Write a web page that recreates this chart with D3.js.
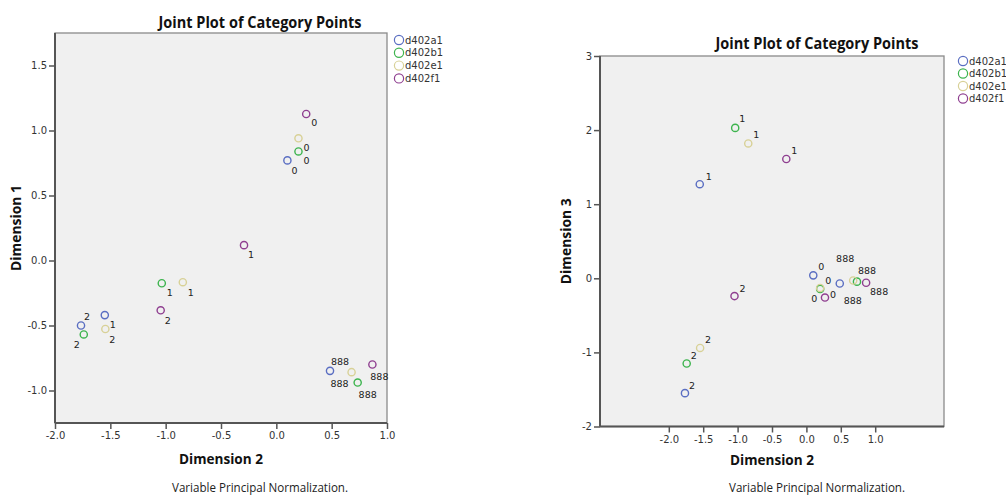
<!DOCTYPE html>
<html><head><meta charset="utf-8">
<script src="https://cdn.jsdelivr.net/npm/d3@7"></script>
<style>
html,body{margin:0;padding:0;background:#fff;}
svg{display:block;}
.tick text{font-family:"DejaVu Sans",sans-serif;font-size:10px;fill:#333;}
</style>
</head><body>
<svg id="chart" width="1006" height="495"></svg>
<script>
// ---- data ----
const variables = ["d402a1", "d402b1", "d402e1", "d402f1"];
const categories = ["0", "1", "2", "888"];
// Dimension 2 values (x in both plots), per variable, per category
const dim2_a1 = [0.10, -1.55, -1.765, 0.485];
const dim2_b1 = [0.20, -1.035, -1.74, 0.735];
const dim2_e1 = [0.20, -0.845, -1.545, 0.68];
const dim2_f1 = [0.27, -0.292, -1.045, 0.868];
// Dimension 1 values
const dim1_a1 = [0.77, -0.42, -0.50, -0.849];
const dim1_b1 = [0.839, -0.175, -0.569, -0.939];
const dim1_e1 = [0.94, -0.167, -0.527, -0.859];
const dim1_f1 = [1.127, 0.118, -0.383, -0.80];
// Dimension 3 values
const dim3_a1 = [0.04, 1.27, -1.55, -0.07];
const dim3_b1 = [-0.143, 2.03, -1.15, -0.045];
const dim3_e1 = [-0.13, 1.82, -0.94, -0.03];
const dim3_f1 = [-0.26, 1.61, -0.24, -0.06];
// tick labels
const leftXTicks = [-2.0, -1.5, -1.0, -0.5, 0.0, 0.5, 1.0];
const leftYTicks = [-1.0, -0.5, 0.0, 0.5, 1.0, 1.5];
const rightXTicks = [-2.0, -1.5, -1.0, -0.5, 0.0, 0.5, 1.0];
const rightYTicks = [-2, -1, 0, 1, 2, 3];

// ---- styles / layout ----
const colors = {d402a1: "#5a6ec2", d402b1: "#3db44e", d402e1: "#d8d197", d402f1: "#8f3f90"};
// label offsets (px) of the category label centre relative to point centre
const labelOffLeft = {
  "d402a1|0": [7, 10], "d402b1|0": [8, 9], "d402e1|0": [8, 9], "d402f1|0": [8, 9],
  "d402a1|1": [8, 9], "d402b1|1": [8, 9], "d402e1|1": [8, 10], "d402f1|1": [7, 9],
  "d402a1|2": [6, -9], "d402b1|2": [-7, 10], "d402e1|2": [7, 10], "d402f1|2": [7, 10],
  "d402a1|888": [10, -9], "d402b1|888": [10, 12], "d402e1|888": [-12, 11], "d402f1|888": [7, 12]
};
const labelOffRight = {
  "d402a1|0": [8, -9], "d402b1|0": [8, -8], "d402e1|0": [-6, 11], "d402f1|0": [8, -3],
  "d402a1|1": [9, -8], "d402b1|1": [7, -9], "d402e1|1": [8, -9], "d402f1|1": [8, -8],
  "d402a1|2": [7, -8], "d402b1|2": [7, -8], "d402e1|2": [8, -8], "d402f1|2": [8, -8],
  "d402a1|888": [13, 17], "d402b1|888": [10, -11], "d402e1|888": [-8, -22], "d402f1|888": [13, 9]
};

const dim2 = {d402a1: dim2_a1, d402b1: dim2_b1, d402e1: dim2_e1, d402f1: dim2_f1};
const dim1 = {d402a1: dim1_a1, d402b1: dim1_b1, d402e1: dim1_e1, d402f1: dim1_f1};
const dim3 = {d402a1: dim3_a1, d402b1: dim3_b1, d402e1: dim3_e1, d402f1: dim3_f1};

const points = [];
variables.forEach(v => categories.forEach((c, i) => {
  points.push({v, c, d1: dim1[v][i], d2: dim2[v][i], d3: dim3[v][i]});
}));

const svg = d3.select("#chart");
const fmt1 = d => d.toFixed(1);
const fmt0 = d => d.toFixed(0);

function panel(cfg) {
  const g = svg.append("g");
  const x = d3.scaleLinear().domain(cfg.xDomain).range([cfg.x0, cfg.x1]);
  const y = d3.scaleLinear().domain(cfg.yDomain).range([cfg.y1, cfg.y0]);

  g.append("rect").attr("x", cfg.x0).attr("y", cfg.y0)
    .attr("width", cfg.x1 - cfg.x0).attr("height", cfg.y1 - cfg.y0)
    .attr("fill", "#f0f0f0").attr("stroke", "#8a8a8a").attr("stroke-width", 1.3);

  const xa = g.append("g").attr("transform", `translate(0,${cfg.y1})`)
    .call(d3.axisBottom(x).tickValues(cfg.xTicks).tickFormat(fmt1).tickSize(6).tickSizeOuter(0).tickPadding(3));
  xa.select(".domain").attr("stroke", "#555").attr("stroke-width", 2)
    .attr("d", `M${cfg.x0},0H${cfg.x1}`);
  xa.selectAll(".tick line").attr("stroke", "#555").attr("stroke-width", 1.5);

  const ya = g.append("g").attr("transform", `translate(${cfg.x0},0)`)
    .call(d3.axisLeft(y).tickValues(cfg.yTicks).tickFormat(cfg.yFmt).tickSize(6).tickSizeOuter(0).tickPadding(2));
  ya.select(".domain").attr("stroke", "#555").attr("stroke-width", 2)
    .attr("d", `M0,${cfg.y0}V${cfg.y1}`);
  ya.selectAll(".tick line").attr("stroke", "#555").attr("stroke-width", 1.5);

  const pg = g.append("g");
  pg.selectAll("circle").data(points).join("circle")
    .attr("cx", d => x(d.d2)).attr("cy", d => y(d[cfg.yKey]))
    .attr("r", 3.6).attr("fill", "none")
    .attr("stroke", d => colors[d.v]).attr("stroke-width", 1.4);
  pg.selectAll("text").data(points).join("text")
    .attr("x", d => x(d.d2) + cfg.off[d.v + "|" + d.c][0])
    .attr("y", d => y(d[cfg.yKey]) + cfg.off[d.v + "|" + d.c][1])
    .attr("text-anchor", "middle").attr("dominant-baseline", "central")
    .attr("font-family", "DejaVu Sans, sans-serif").attr("font-size", 9.5).attr("fill", "#222")
    .text(d => d.c);

  // title
  g.append("text").attr("x", cfg.titleX).attr("y", cfg.titleY)
    .attr("text-anchor", "middle").attr("font-family", "Open Sans, sans-serif")
    .attr("font-weight", "bold").attr("font-size", 16.5).attr("fill", "#111")
    .attr("textLength", 203).attr("lengthAdjust", "spacingAndGlyphs")
    .text("Joint Plot of Category Points");
  // x title
  g.append("text").attr("x", (cfg.x0 + cfg.x1) / 2).attr("y", cfg.xTitleY)
    .attr("text-anchor", "middle").attr("font-family", "Open Sans, sans-serif")
    .attr("font-weight", "bold").attr("font-size", 15).attr("fill", "#111")
    .attr("textLength", 84).attr("lengthAdjust", "spacingAndGlyphs")
    .text("Dimension 2");
  // y title
  const yc = (cfg.y0 + cfg.y1) / 2 + cfg.yTitleShift;
  g.append("text").attr("transform", `translate(${cfg.yTitleX},${yc}) rotate(-90)`)
    .attr("text-anchor", "middle").attr("font-family", "Open Sans, sans-serif")
    .attr("font-weight", "bold").attr("font-size", 15).attr("fill", "#111")
    .attr("textLength", 86).attr("lengthAdjust", "spacingAndGlyphs")
    .text(cfg.yTitle);
  // footnote
  g.append("text").attr("x", cfg.titleX).attr("y", 492)
    .attr("text-anchor", "middle").attr("font-family", "Open Sans, sans-serif")
    .attr("font-size", 12).attr("fill", "#222")
    .attr("textLength", 176).attr("lengthAdjust", "spacingAndGlyphs")
    .text("Variable Principal Normalization.");

  // legend
  const lg = g.append("g");
  variables.forEach((v, i) => {
    const yy = cfg.legY + i * cfg.legStep;
    lg.append("circle").attr("cx", cfg.legX).attr("cy", yy).attr("r", 4.6)
      .attr("fill", "none").attr("stroke", colors[v]).attr("stroke-width", 1.2);
    lg.append("text").attr("x", cfg.legX + 6).attr("y", yy).attr("dominant-baseline", "central")
      .attr("font-family", "DejaVu Sans, sans-serif").attr("font-size", 10).attr("fill", "#333")
      .text(v);
  });
}

panel({
  x0: 55, x1: 387, y0: 33, y1: 423,
  xDomain: [-2, 1], yDomain: [-1.25, 1.75],
  xTicks: leftXTicks, yTicks: leftYTicks, yFmt: fmt1,
  yKey: "d1", off: labelOffLeft,
  titleX: 260, titleY: 28, xTitleY: 464,
  yTitle: "Dimension 1", yTitleX: 21, yTitleShift: 0,
  legX: 399, legY: 40, legStep: 12.8
});

panel({
  x0: 600, x1: 944, y0: 56, y1: 426.5,
  xDomain: [-3, 2], yDomain: [-2, 3],
  xTicks: rightXTicks, yTicks: rightYTicks, yFmt: fmt0,
  yKey: "d3", off: labelOffRight,
  titleX: 817, titleY: 49, xTitleY: 465,
  yTitle: "Dimension 3", yTitleX: 571, yTitleShift: 0,
  legX: 963, legY: 61, legStep: 12.5
});
</script>
</body></html>
